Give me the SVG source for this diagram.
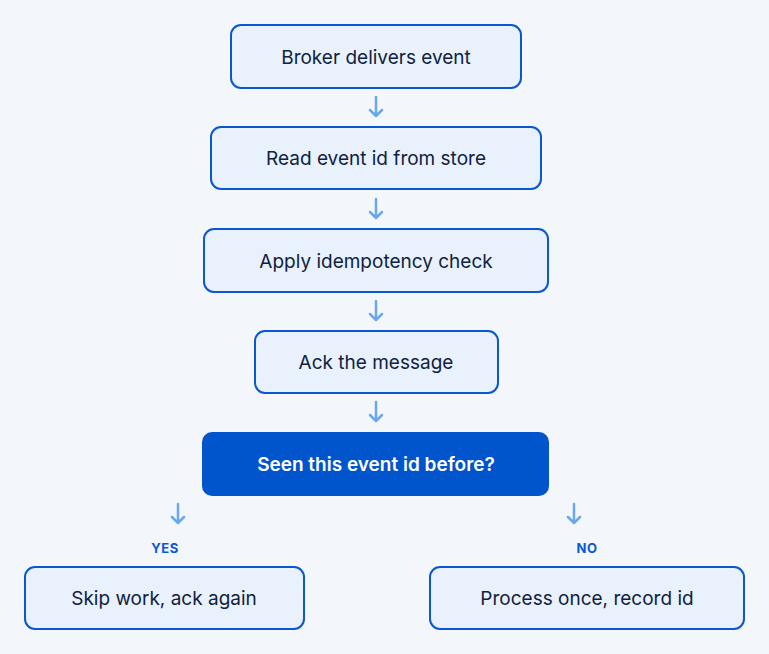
<svg xmlns="http://www.w3.org/2000/svg" width="769" height="654" viewBox="0 0 769 654">
<style>
.n{fill:#E8F1FC;stroke:#0A57CF;stroke-width:2}
.t{font-family:Inter,"Liberation Sans",sans-serif;font-size:19px;fill:#10223F;text-anchor:middle;dominant-baseline:central}
.a{fill:none;stroke:#6AA8EC;stroke-width:2.5;stroke-linecap:round;stroke-linejoin:round}
.l{font-family:Inter,"Liberation Sans",sans-serif;font-size:13px;font-weight:700;fill:#0A57CF;text-anchor:middle;dominant-baseline:central;letter-spacing:0.5px}
</style>
<rect width="769" height="654" fill="#F3F7FC"/>
<g id="connectors">
<path class="a" d="M376 97V116M370 110L376 116L382 110"/>
<path class="a" d="M376 199V218M370 212L376 218L382 212"/>
<path class="a" d="M376 301V320M370 314L376 320L382 314"/>
<path class="a" d="M376 402V421M370 415L376 421L382 415"/>
<path class="a" d="M178 504V523M172 517L178 523L184 517"/>
<path class="a" d="M574 504V523M568 517L574 523L580 517"/>
<text class="l" x="165" y="548">YES</text>
<text class="l" x="587" y="548">NO</text>
</g>
<g id="n1"><rect class="n" x="231" y="25" width="290" height="63" rx="10"/><text class="t" x="376" y="57">Broker delivers event</text></g>
<g id="n2"><rect class="n" x="211" y="127" width="330" height="62" rx="10"/><text class="t" x="376" y="158">Read event id from store</text></g>
<g id="n3"><rect class="n" x="204" y="229" width="344" height="63" rx="10"/><text class="t" x="376" y="261">Apply idempotency check</text></g>
<g id="n4"><rect class="n" x="255" y="331" width="243" height="62" rx="10"/><text class="t" x="376" y="362">Ack the message</text></g>
<g id="n5"><rect x="202" y="432" width="347" height="64" rx="10" fill="#0055CC"/><text class="t" x="376" y="464" style="fill:#fff;font-weight:600">Seen this event id before?</text></g>
<g id="n6"><rect class="n" x="25" y="567" width="279" height="62" rx="10"/><text class="t" x="164" y="598">Skip work, ack again</text></g>
<g id="n7"><rect class="n" x="430" y="567" width="314" height="62" rx="10"/><text class="t" x="587" y="598">Process once, record id</text></g>
</svg>
